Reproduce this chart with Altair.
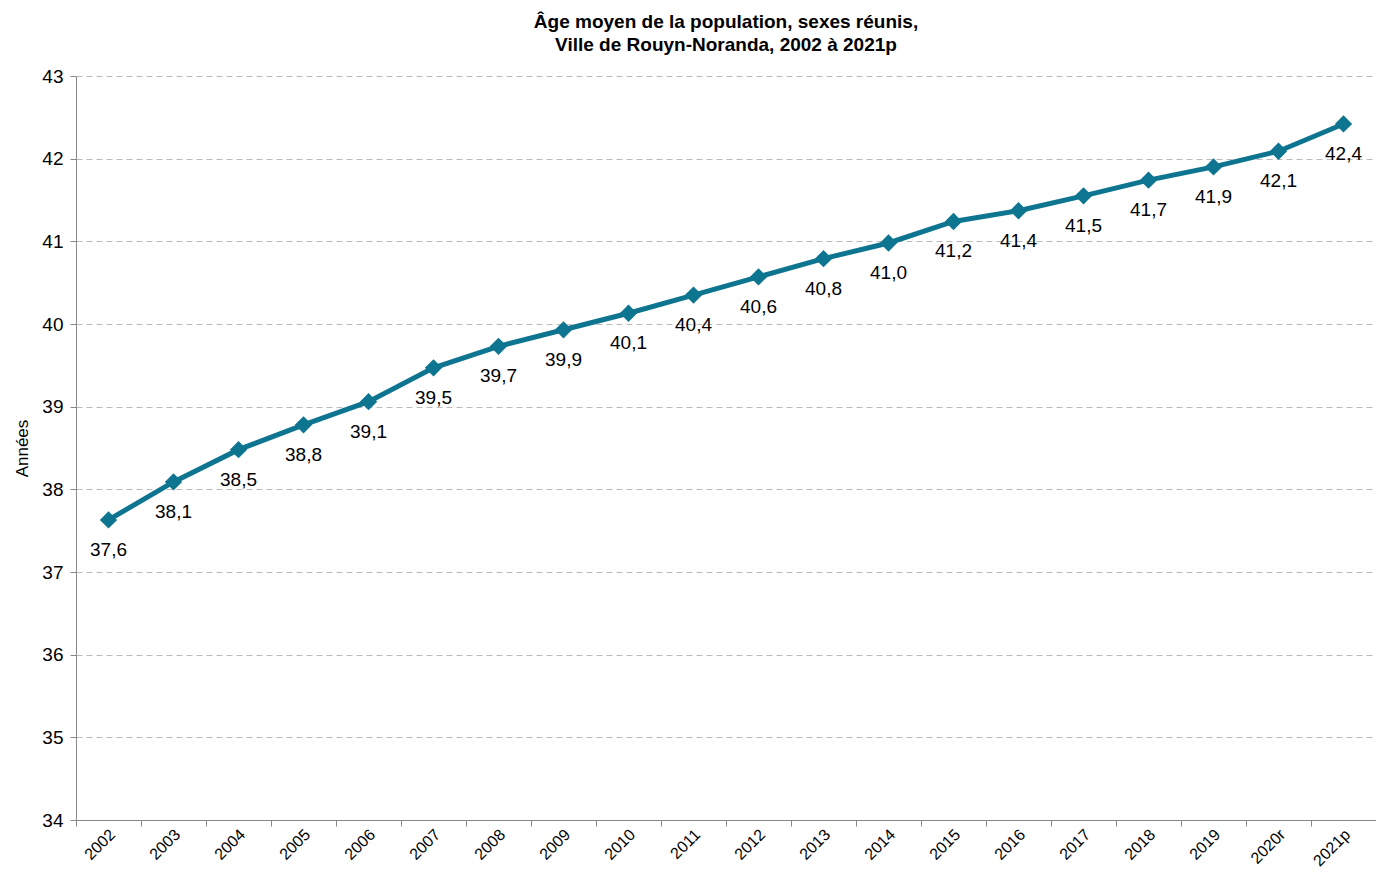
import altair as alt
import pandas as pd

years = ["2002", "2003", "2004", "2005", "2006", "2007", "2008", "2009", "2010", "2011",
         "2012", "2013", "2014", "2015", "2016", "2017", "2018", "2019", "2020r", "2021p"]
ages = [37.63, 38.09, 38.48, 38.78, 39.06, 39.47, 39.73, 39.93, 40.13, 40.35,
        40.57, 40.79, 40.98, 41.24, 41.37, 41.55, 41.74, 41.90, 42.09, 42.42]
labels = ["37,6", "38,1", "38,5", "38,8", "39,1", "39,5", "39,7", "39,9", "40,1", "40,4",
          "40,6", "40,8", "41,0", "41,2", "41,4", "41,5", "41,7", "41,9", "42,1", "42,4"]
y_ticks = [34, 35, 36, 37, 38, 39, 40, 41, 42, 43]

df = pd.DataFrame({"annee": years, "age": ages, "etiquette": labels})

FONT = "Liberation Sans"
COLOR = "#0e7590"

x = alt.X("annee:N", sort=years, title=None,
          scale=alt.Scale(paddingInner=0, paddingOuter=0),
          axis=alt.Axis(labelAngle=-45, labelAlign="right", labelBaseline="top",
                        labelFontSize=16, labelColor="#000", labelFont=FONT,
                        tickBand="extent", tickColor="#888", tickSize=6,
                        domainColor="#888", labelPadding=0, labelOffset=-2, grid=False))
y = alt.Y("age:Q", title="Années",
          scale=alt.Scale(domain=[34, 43], nice=False, zero=False),
          axis=alt.Axis(values=y_ticks, labelFontSize=19, labelColor="#000", labelFont=FONT,
                        titleFont=FONT, titleFontSize=17, titleFontWeight="normal",
                        titleColor="#000", titlePadding=10,
                        grid=True, gridColor="#bbbbbb", gridDash=[6, 4],
                        tickColor="#888", tickSize=6, domainColor="#888", labelPadding=7))

base = alt.Chart(df).encode(x=x, y=y)

line = base.mark_line(color=COLOR, strokeWidth=5)
pts = base.mark_point(shape="diamond", filled=True, color=COLOR, size=300, opacity=1)
txt = base.mark_text(dy=30, fontSize=19, font=FONT, color="#000").encode(text="etiquette:N")

chart = (line + pts + txt).properties(
    width=1300, height=744,
    autosize=alt.AutoSizeParams(type="none"),
    padding={"left": 68, "top": 68, "right": 0, "bottom": 50},
    title=alt.Title(["Âge moyen de la population, sexes  réunis,",
                     "Ville de Rouyn-Noranda,  2002 à 2021p"],
                    font=FONT, fontSize=19, fontWeight="bold", color="#000",
                    anchor="middle", offset=12, lineHeight=23),
).configure_view(stroke=None)

chart.save("out.html", embed_options={"renderer": "svg", "actions": False})
